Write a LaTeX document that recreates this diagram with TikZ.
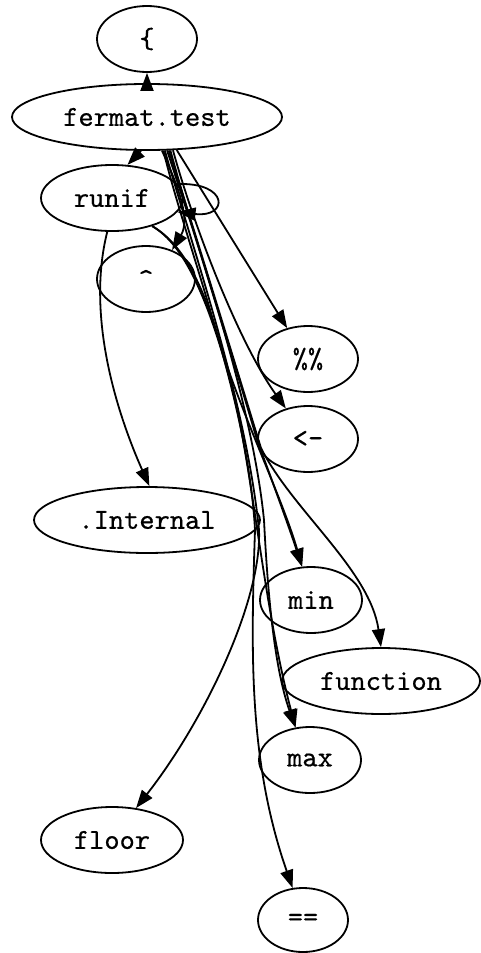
\documentclass[tikz,border=0pt]{standalone}
\usepackage{fontspec}
\newfontfamily\ndfont{lmmono10-regular}[Extension=.otf,FakeBold=0.5]
\usetikzlibrary{shapes.geometric,arrows.meta}
\begin{document}
\begin{tikzpicture}[x=1pt,y=-1pt,
  nd/.style={draw,ellipse,line width=1.8pt,inner sep=0pt,minimum height=66pt,
    font=\ndfont\fontsize{29}{32}\selectfont},
  ed/.style={line width=1.8pt,-{Triangle[length=18pt,width=13pt]}}]
\useasboundingbox (0,0) rectangle (481,953);
\node[nd,minimum width=100pt] (brace) at (147,39) {\{};
\node[nd,minimum width=270pt] (ft) at (147,117) {fermat.test};
\node[nd,minimum width=142pt] (runif) at (112,198) {runif};
\node[nd,minimum width=98pt] (hat) at (146,279) {\textasciicircum};
\node[nd,minimum width=100pt] (pct) at (308,359) {\%\%};
\node[nd,minimum width=100pt] (assign) at (308,439) {<-};
\node[nd,minimum width=226pt] (int) at (147,520) {.Internal};
\node[nd,minimum width=102pt] (min) at (311,600) {min};
\node[nd,minimum width=198pt] (fun) at (381,681) {function};
\node[nd,minimum width=102pt] (max) at (310,760) {max};
\node[nd,minimum width=142pt] (floor) at (112,840) {floor};
\node[nd,minimum width=90pt,minimum height=64pt] (eq) at (303,920) {==};

\draw[ed] (ft) -- (brace);
\draw[ed] (ft.-100) -- (runif.65);
\draw[ed] (runif.12) .. controls (229,182) and (229,218) .. (runif.-12);
\draw[ed] (ft.-66) .. controls (180,190) and (190,220) .. (hat.48);
\draw[ed] (ft.-48) -- (pct.124);
\draw[ed] (ft.-52) .. controls (192,220) and (237,340) .. (assign.126);
\draw[ed] (runif.-98) .. controls (85,320) and (120,420) .. (int.86);
\draw[ed] (ft.-55) .. controls (192,230) and (234,360) .. (257,440) .. controls (272,480) and (290,530) .. (min.105);
\draw[ed] (runif.-35) .. controls (185,245) and (205,290) .. (222,350) .. controls (240,410) and (283,500) .. (min.105);
\draw[ed] (ft.-57) .. controls (196,235) and (240,380) .. (261,448) .. controls (292,510) and (370,570) .. (fun.90);
\draw[ed] (ft.-59) .. controls (196,240) and (252,400) .. (264,520) .. controls (268,600) and (275,670) .. (max.114);
\draw[ed] (runif.-35) .. controls (185,245) and (208,300) .. (230,380) .. controls (252,460) and (262,600) .. (max.114);
\draw[ed] (ft.-62) .. controls (190,240) and (246,400) .. (259,530) .. controls (262,600) and (205,720) .. (floor.53);
\draw[ed] (ft.-64) .. controls (186,245) and (248,400) .. (255,530) .. controls (251,650) and (248,760) .. (eq.108);
\end{tikzpicture}
\end{document}
